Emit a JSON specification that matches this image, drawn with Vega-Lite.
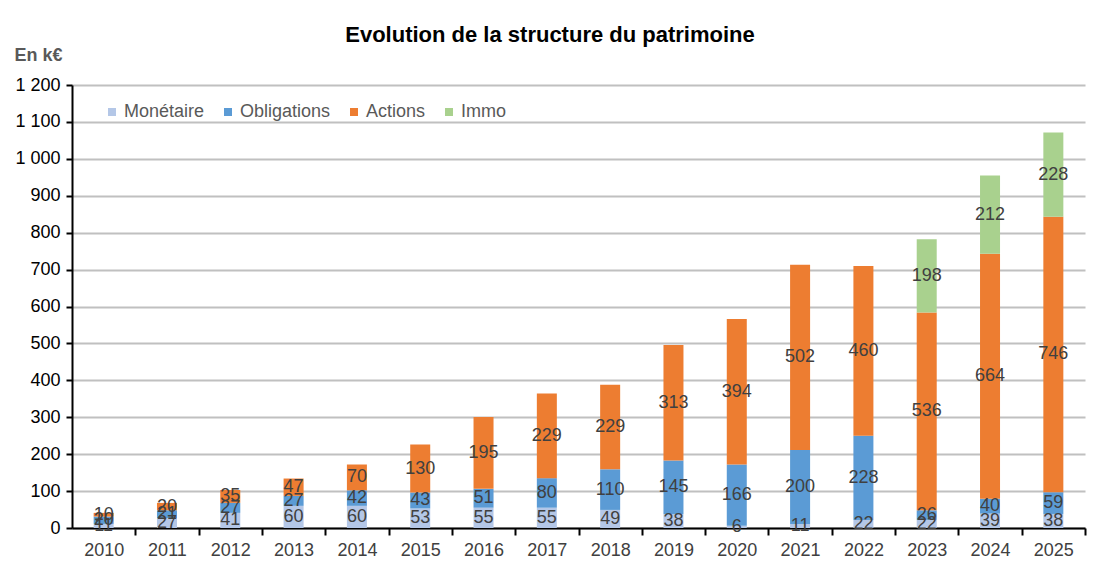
{
  "$schema": "https://vega.github.io/schema/vega-lite/v6.json",
  "width": 1013,
  "height": 443,
  "autosize": "none",
  "padding": {"left": 72, "top": 85, "right": 19, "bottom": 46},
  "background": "white",
  "config": {
    "font": "Liberation Sans",
    "view": {"stroke": null}
  },
  "title": {
    "text": "Evolution de la structure du patrimoine",
    "fontSize": 22,
    "fontWeight": "bold",
    "color": "#000000",
    "anchor": "middle",
    "frame": "bounds",
    "offset": -1,
    "font": "Liberation Sans"
  },
  "data": {
    "values": [
      {"year": "2010", "cat": "Monétaire", "v": 11},
      {"year": "2010", "cat": "Obligations", "v": 20},
      {"year": "2010", "cat": "Actions", "v": 10},
      {"year": "2011", "cat": "Monétaire", "v": 27},
      {"year": "2011", "cat": "Obligations", "v": 21},
      {"year": "2011", "cat": "Actions", "v": 20},
      {"year": "2012", "cat": "Monétaire", "v": 41},
      {"year": "2012", "cat": "Obligations", "v": 27},
      {"year": "2012", "cat": "Actions", "v": 35},
      {"year": "2013", "cat": "Monétaire", "v": 60},
      {"year": "2013", "cat": "Obligations", "v": 27},
      {"year": "2013", "cat": "Actions", "v": 47},
      {"year": "2014", "cat": "Monétaire", "v": 60},
      {"year": "2014", "cat": "Obligations", "v": 42},
      {"year": "2014", "cat": "Actions", "v": 70},
      {"year": "2015", "cat": "Monétaire", "v": 53},
      {"year": "2015", "cat": "Obligations", "v": 43},
      {"year": "2015", "cat": "Actions", "v": 130},
      {"year": "2016", "cat": "Monétaire", "v": 55},
      {"year": "2016", "cat": "Obligations", "v": 51},
      {"year": "2016", "cat": "Actions", "v": 195},
      {"year": "2017", "cat": "Monétaire", "v": 55},
      {"year": "2017", "cat": "Obligations", "v": 80},
      {"year": "2017", "cat": "Actions", "v": 229},
      {"year": "2018", "cat": "Monétaire", "v": 49},
      {"year": "2018", "cat": "Obligations", "v": 110},
      {"year": "2018", "cat": "Actions", "v": 229},
      {"year": "2019", "cat": "Monétaire", "v": 38},
      {"year": "2019", "cat": "Obligations", "v": 145},
      {"year": "2019", "cat": "Actions", "v": 313},
      {"year": "2020", "cat": "Monétaire", "v": 6},
      {"year": "2020", "cat": "Obligations", "v": 166},
      {"year": "2020", "cat": "Actions", "v": 394},
      {"year": "2021", "cat": "Monétaire", "v": 11},
      {"year": "2021", "cat": "Obligations", "v": 200},
      {"year": "2021", "cat": "Actions", "v": 502},
      {"year": "2022", "cat": "Monétaire", "v": 22},
      {"year": "2022", "cat": "Obligations", "v": 228},
      {"year": "2022", "cat": "Actions", "v": 460},
      {"year": "2023", "cat": "Monétaire", "v": 22},
      {"year": "2023", "cat": "Obligations", "v": 26},
      {"year": "2023", "cat": "Actions", "v": 536},
      {"year": "2023", "cat": "Immo", "v": 198},
      {"year": "2024", "cat": "Monétaire", "v": 39},
      {"year": "2024", "cat": "Obligations", "v": 40},
      {"year": "2024", "cat": "Actions", "v": 664},
      {"year": "2024", "cat": "Immo", "v": 212},
      {"year": "2025", "cat": "Monétaire", "v": 38},
      {"year": "2025", "cat": "Obligations", "v": 59},
      {"year": "2025", "cat": "Actions", "v": 746},
      {"year": "2025", "cat": "Immo", "v": 228}
    ]
  },
  "transform": [
    {"calculate": "indexof(['Monétaire','Obligations','Actions','Immo'], datum.cat)", "as": "ord"}
  ],
  "encoding": {
    "x": {
      "field": "year",
      "type": "ordinal",
      "scale": {"paddingInner": 0.684, "paddingOuter": 0.342},
      "axis": {
        "title": null,
        "labelAngle": 0,
        "labelFontSize": 18,
        "labelColor": "#404040",
        "labelPadding": 6,
        "ticks": true,
        "tickSize": 7,
        "tickWidth": 2,
        "tickColor": "#000000",
        "tickOffset": 31.66,
        "labelOffset": -31.66,
        "domain": true,
        "domainColor": "#000000",
        "domainWidth": 2
      }
    },
    "y": {
      "field": "v",
      "type": "quantitative",
      "stack": "zero",
      "scale": {"domain": [0, 1200], "nice": false},
      "axis": {
        "values": [0, 100, 200, 300, 400, 500, 600, 700, 800, 900, 1000, 1100, 1200],
        "labelExpr": "replace(format(datum.value, ','), ',', ' ')",
        "labelFontSize": 18,
        "labelColor": "#000000",
        "labelPadding": 6,
        "tickSize": 6,
        "tickColor": "#000000",
        "tickWidth": 2,
        "domainColor": "#000000",
        "domainWidth": 2,
        "grid": true,
        "gridColor": "#C0C0C0",
        "gridWidth": 2,
        "title": "En k€",
        "titleAngle": 0,
        "titleAlign": "left",
        "titleBaseline": "middle",
        "titleX": -58,
        "titleY": -30,
        "titleFontSize": 18,
        "titleFontWeight": "bold",
        "titleColor": "#595959"
      }
    },
    "order": {"field": "ord", "type": "quantitative"}
  },
  "layer": [
    {
      "mark": {"type": "bar"},
      "encoding": {
        "color": {
          "field": "cat",
          "type": "nominal",
          "scale": {
            "domain": ["Monétaire", "Obligations", "Actions", "Immo"],
            "range": ["#B4C7E7", "#5B9BD5", "#ED7D31", "#A9D18E"]
          },
          "legend": {
            "title": null,
            "orient": "none",
            "legendX": 31,
            "legendY": 18,
            "direction": "horizontal",
            "columns": 4,
            "symbolType": "square",
            "symbolSize": 64,
            "symbolStrokeWidth": 0,
            "labelFontSize": 18,
            "labelColor": "#595959",
            "labelOffset": 3,
            "columnPadding": 14
          }
        }
      }
    },
    {
      "mark": {"type": "text", "fontSize": 18, "color": "#404040", "baseline": "middle"},
      "encoding": {
        "y": {"field": "v", "type": "quantitative", "stack": "zero", "bandPosition": 0.5},
        "text": {"field": "v", "type": "quantitative"}
      }
    }
  ]
}
